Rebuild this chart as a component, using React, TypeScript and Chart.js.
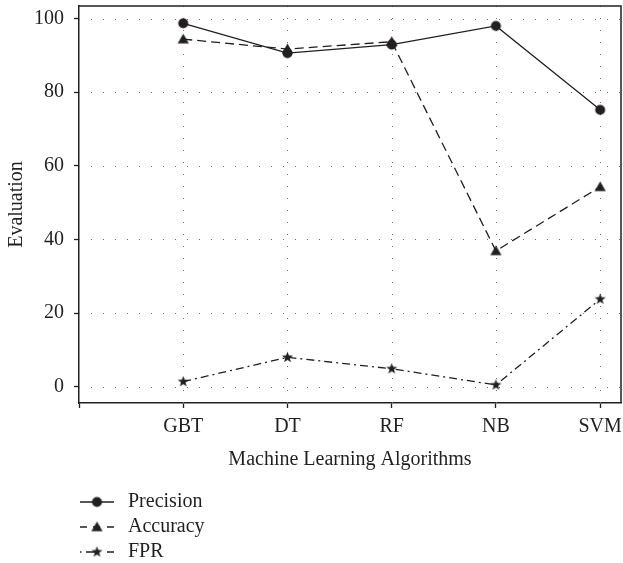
import { useEffect, useRef } from 'react';
import { Chart, registerables } from 'chart.js';

Chart.register(...registerables);

const categories = ['', 'GBT', 'DT', 'RF', 'NB', 'SVM'];
const precision = [98.7, 90.6, 92.9, 98.0, 75.2];
const accuracy = [94.4, 91.7, 93.7, 36.9, 54.3];
const fpr = [1.4, 8.0, 4.9, 0.5, 23.8];
const yTicks = [0, 20, 40, 60, 80, 100];
const seriesNames = ['Precision', 'Accuracy', 'FPR'];

const INK = '#231f20';
const GRID = '#6d6e71';
const FONT = "'Liberation Serif', 'Times New Roman', serif";

function makeMarker(kind: string): HTMLCanvasElement {
  const c = document.createElement('canvas');
  c.width = 15;
  c.height = 15;
  const g = c.getContext('2d')!;
  g.fillStyle = INK;
  g.translate(7.5, 7.5);
  g.beginPath();
  if (kind === 'circle') {
    g.arc(0, 0, 5, 0, Math.PI * 2);
  } else if (kind === 'triangle') {
    g.moveTo(0, -5.5);
    g.lineTo(5.6, 4.2);
    g.lineTo(-5.6, 4.2);
    g.closePath();
  } else {
    const outer = 5.8;
    const inner = 2.4;
    for (let i = 0; i < 10; i++) {
      const r = i % 2 === 0 ? outer : inner;
      const a = -Math.PI / 2 + (i * Math.PI) / 5;
      const px = Math.cos(a) * r;
      const py = Math.sin(a) * r;
      if (i === 0) g.moveTo(px, py);
      else g.lineTo(px, py);
    }
    g.closePath();
  }
  g.fill();
  return c;
}

export default function App() {
  const ref = useRef<HTMLCanvasElement | null>(null);

  useEffect(() => {
    if (!ref.current) return;
    const markers = [makeMarker('circle'), makeMarker('triangle'), makeMarker('star')];
    const dashes = [[], [9, 5], [8, 4, 2, 4]];
    const legendDashes = [[], [7, 6, 7, 7, 7], [1.5, 4.5, 9.5, 11.5, 7]];
    const series = [precision, accuracy, fpr];

    const gridPlugin = {
      id: 'dottedGrid',
      beforeDatasetsDraw(chart: any) {
        const { ctx, chartArea, scales } = chart;
        const { left, right, top, bottom } = chartArea;
        ctx.save();
        ctx.strokeStyle = GRID;
        ctx.lineWidth = 1;
        ctx.setLineDash([1, 11]);
        yTicks.forEach((v) => {
          const py = Math.round(scales.y.getPixelForValue(v)) + 0.5;
          ctx.beginPath();
          ctx.moveTo(left, py);
          ctx.lineTo(right, py);
          ctx.stroke();
        });
        for (let i = 1; i < categories.length; i++) {
          const px = Math.round(scales.x.getPixelForValue(i)) + 0.5;
          ctx.beginPath();
          ctx.moveTo(px, top);
          ctx.lineTo(px, bottom);
          ctx.stroke();
        }
        ctx.restore();
      },
      afterDatasetsDraw(chart: any) {
        const { ctx, chartArea } = chart;
        const { left, right, top, bottom } = chartArea;
        ctx.save();
        ctx.strokeStyle = INK;
        ctx.lineWidth = 1.5;
        ctx.setLineDash([]);
        ctx.beginPath();
        ctx.moveTo(left, top);
        ctx.lineTo(right, top);
        ctx.lineTo(right, bottom);
        ctx.stroke();
        ctx.restore();
      },
    };

    const legendPlugin = {
      id: 'lineLegend',
      afterDraw(chart: any) {
        const { ctx } = chart;
        const x0 = 80;
        const x1 = 114;
        const xm = 97;
        const y0 = 502;
        const step = 25;
        chart.data.datasets.forEach((ds: any, i: number) => {
          const y = y0 + i * step;
          ctx.save();
          ctx.strokeStyle = INK;
          ctx.lineWidth = 1.3;
          ctx.setLineDash(legendDashes[i]);
          ctx.beginPath();
          ctx.moveTo(x0, y);
          ctx.lineTo(x1, y);
          ctx.stroke();
          ctx.setLineDash([]);
          const m = markers[i];
          ctx.drawImage(m, xm - m.width / 2, y - m.height / 2);
          ctx.fillStyle = INK;
          ctx.font = `20px ${FONT}`;
          ctx.textAlign = 'left';
          ctx.textBaseline = 'middle';
          ctx.fillText(ds.label, 128, y);
          ctx.restore();
        });
      },
    };

    const chart = new Chart(ref.current, {
      type: 'line',
      data: {
        datasets: seriesNames.map((name, i) => ({
          label: name,
          data: series[i].map((v, j) => ({ x: j + 1, y: v })),
          borderColor: INK,
          backgroundColor: INK,
          borderWidth: 1.3,
          borderDash: dashes[i],
          pointStyle: markers[i] as any,
          pointRadius: 5,
          pointHoverRadius: 5,
          fill: false,
          tension: 0,
        })),
      },
      options: {
        responsive: false,
        animation: false,
        devicePixelRatio: 1,
        layout: { autoPadding: false, padding: { top: 6, right: 2, left: 0, bottom: 80 } },
        plugins: {
          legend: { display: false },
          tooltip: { enabled: false },
        },
        scales: {
          x: {
            type: 'linear',
            min: 0,
            max: 5.2,
            afterBuildTicks: (axis: any) => {
              axis.ticks = categories.map((_, i) => ({ value: i }));
            },
            afterFit: (axis: any) => {
              axis.height = 80;
              axis.paddingLeft = 0;
              axis.paddingRight = 0;
            },
            ticks: {
              autoSkip: false,
              maxRotation: 0,
              minRotation: 0,
              padding: 7,
              color: INK,
              font: { family: FONT, size: 20 },
              callback: (v: any) => categories[Math.round(Number(v))] ?? '',
            },
            grid: {
              drawOnChartArea: false,
              drawTicks: true,
              tickLength: 5,
              tickColor: INK,
              tickWidth: 1.3,
            },
            border: { display: true, color: INK, width: 1.5 },
            title: {
              display: true,
              text: 'Machine Learning Algorithms',
              color: INK,
              font: { family: FONT, size: 20 },
              padding: { top: 0, bottom: 11 },
            },
          },
          y: {
            type: 'linear',
            min: -4.4,
            max: 103.4,
            afterBuildTicks: (axis: any) => {
              axis.ticks = yTicks.map((v) => ({ value: v }));
            },
            afterFit: (axis: any) => {
              axis.width = 79;
              axis.paddingTop = 0;
              axis.paddingBottom = 0;
            },
            ticks: {
              padding: 10,
              color: INK,
              font: { family: FONT, size: 20 },
              callback: (v: any) => String(v),
            },
            grid: {
              drawOnChartArea: false,
              drawTicks: true,
              tickLength: 5,
              tickColor: INK,
              tickWidth: 1.3,
            },
            border: { display: true, color: INK, width: 1.5 },
            title: {
              display: true,
              text: 'Evaluation',
              color: INK,
              font: { family: FONT, size: 20 },
              padding: { top: 5, bottom: 0 },
            },
          },
        },
      },
      plugins: [gridPlugin, legendPlugin],
    });

    return () => {
      chart.destroy();
    };
  }, []);

  return (
    <div style={{ position: 'fixed', left: 0, top: 0, width: 623, height: 563, background: '#fff' }}>
      <canvas ref={ref} width={623} height={563} style={{ display: 'block', width: 623, height: 563 }} />
    </div>
  );
}
